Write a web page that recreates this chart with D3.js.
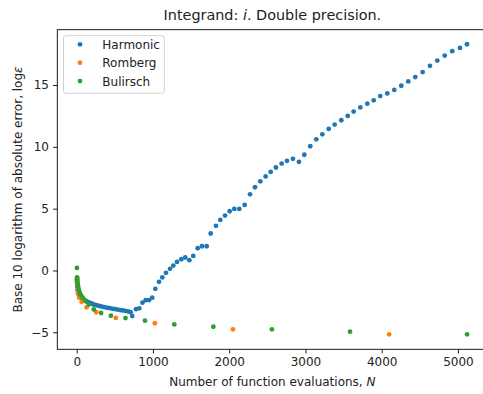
<!DOCTYPE html>
<html>
<head>
<meta charset="utf-8">
<script src="https://cdn.jsdelivr.net/npm/d3@7"></script>
<style>
  html, body { margin: 0; padding: 0; background: #fff; }
  svg { display: block; }
  text { font-family: "DejaVu Sans", sans-serif; fill: #222; }
</style>
</head>
<body>
<div id="chart"></div>
<script>
// ---- Data ----
const seriesNames = ["Harmonic", "Romberg", "Bulirsch"];
const seriesColors = ["#1f77b4", "#ff7f0e", "#2ca02c"];

const harmonicN = [2, 7, 13, 22, 32, 44, 57, 71, 87, 104, 122, 142, 162, 184, 206, 230, 254, 279, 305, 331,
  359, 387, 416, 446, 476, 507, 539, 572, 605, 639, 673, 708, 729,
  778, 821, 863, 905, 948, 991, 1031, 1079, 1123, 1171, 1224, 1267, 1315, 1372, 1424, 1477, 1529, 1587,
  1643, 1705, 1757, 1827, 1883, 1945, 2006, 2067, 2132, 2203, 2273, 2338, 2408, 2478, 2544, 2613,
  2688, 2758, 2836, 2915, 2985, 3063, 3142, 3221, 3305, 3383, 3470, 3554, 3632, 3719, 3811, 3895,
  3981, 4073, 4165, 4257, 4348, 4440, 4537, 4633, 4729, 4826, 4925, 5026, 5118];
const harmonicLogErr = [-0.85, -1.3, -1.6, -1.85, -2.0, -2.1, -2.2, -2.28, -2.35, -2.42, -2.48, -2.54, -2.6, -2.65, -2.71, -2.76, -2.8, -2.84, -2.88, -2.92,
  -2.96, -3.0, -3.03, -3.06, -3.1, -3.13, -3.16, -3.2, -3.23, -3.27, -3.3, -3.38, -3.69,
  -3.13, -3.06, -2.6, -2.4, -2.4, -2.2, -1.48, -0.92, -0.56, -0.19, 0.13, 0.4, 0.69, 0.91, 1.05, 0.83, 1.18, 1.8,
  1.96, 1.96, 2.99, 3.61, 4.09, 4.44, 4.79, 4.98, 4.98, 5.3, 6.16, 6.73, 7.21, 7.61, 7.97, 8.33,
  8.65, 8.87, 9.03, 8.79, 9.36, 10.05, 10.61, 11.01, 11.45, 11.8, 12.15, 12.5, 12.85, 13.19, 13.49, 13.76,
  14.11, 14.32, 14.6, 14.94, 15.29, 15.64, 16.05, 16.55, 16.98, 17.38, 17.74, 18.0, 18.3];

const rombergN = [3, 5, 9, 17, 33, 65, 129, 257, 513, 1025, 2049, 4097];
const rombergLogErr = [-0.7, -1.05, -1.45, -1.85, -2.2, -2.53, -2.98, -3.38, -3.84, -4.27, -4.76, -5.16];

const bulirschN = [3, 5, 7, 10, 14, 20, 28, 40, 56, 80, 112, 160, 224, 320, 448, 640, 896, 1280, 1792, 2560, 3584, 5120];
const bulirschLogErr = [0.21, -0.55, -0.7, -0.9, -1.1, -1.3, -1.55, -1.8, -2.0, -2.2, -2.45, -2.76, -3.15, -3.44, -3.66, -3.85, -4.06, -4.36, -4.55, -4.76, -4.95, -5.16];

const xTicks = [0, 1000, 2000, 3000, 4000, 5000];
const yTicks = [-5, 0, 5, 10, 15];

// ---- Layout ----
const W = 483, H = 394;
const plotLeft = 57.3, plotTop = 29.7, plotBottom = 349.3, plotRight = 487.4;
const fs = 12;

const svg = d3.select("#chart").append("svg")
  .attr("width", W).attr("height", H)
  .attr("viewBox", `0 0 ${W} ${H}`);

const x = d3.scaleLinear().domain([-254.4, 5386]).range([plotLeft, plotRight]);
const y = d3.scaleLinear().domain([-6.375, 19.475]).range([plotBottom, plotTop]);

const series = [
  { name: seriesNames[0], color: seriesColors[0], n: harmonicN, v: harmonicLogErr },
  { name: seriesNames[1], color: seriesColors[1], n: rombergN, v: rombergLogErr },
  { name: seriesNames[2], color: seriesColors[2], n: bulirschN, v: bulirschLogErr }
];

svg.append("defs").append("clipPath").attr("id", "plotclip")
  .append("rect").attr("x", plotLeft).attr("y", plotTop)
  .attr("width", plotRight - plotLeft).attr("height", plotBottom - plotTop);

const gPts = svg.append("g").attr("clip-path", "url(#plotclip)");
series.forEach(s => {
  gPts.append("g").selectAll("circle")
    .data(s.n.map((n, i) => [n, s.v[i]]))
    .join("circle")
    .attr("cx", d => x(d[0]))
    .attr("cy", d => y(d[1]))
    .attr("r", 2.4)
    .attr("fill", s.color);
});

// axes
const xAxis = d3.axisBottom(x).tickValues(xTicks).tickFormat(d3.format("d")).tickSize(4.2).tickPadding(4.2);
const yAxis = d3.axisLeft(y).tickValues(yTicks).tickFormat(d => d < 0 ? "\u2212" + Math.abs(d) : d).tickSize(4.2).tickPadding(4.2);

const gx = svg.append("g").attr("transform", `translate(0,${plotBottom})`).call(xAxis);
const gy = svg.append("g").attr("transform", `translate(${plotLeft},0)`).call(yAxis);
[gx, gy].forEach(g => {
  g.select(".domain").remove();
  g.selectAll(".tick line").attr("stroke", "#000").attr("stroke-width", 0.9);
  g.selectAll(".tick text").attr("font-size", fs).attr("font-family", "DejaVu Sans").attr("fill", "#222");
});

// spines
svg.append("rect")
  .attr("x", plotLeft).attr("y", plotTop)
  .attr("width", plotRight - plotLeft).attr("height", plotBottom - plotTop)
  .attr("fill", "none").attr("stroke", "#000").attr("stroke-width", 0.9);

// title
const title = svg.append("text")
  .attr("x", (plotLeft + plotRight) / 2).attr("y", 20)
  .attr("text-anchor", "middle").attr("font-size", 14.4);
title.append("tspan").text("Integrand: ");
title.append("tspan").attr("font-style", "italic").text("i");
title.append("tspan").text(". Double precision.");

// x label
const xl = svg.append("text")
  .attr("x", (plotLeft + plotRight) / 2).attr("y", 385.5)
  .attr("text-anchor", "middle").attr("font-size", fs);
xl.append("tspan").text("Number of function evaluations, ");
xl.append("tspan").attr("font-style", "italic").text("N");

// y label
const yl = svg.append("text")
  .attr("transform", `translate(21.5,${(plotTop + plotBottom) / 2}) rotate(-90)`)
  .attr("text-anchor", "middle").attr("font-size", fs);
yl.append("tspan").text("Base 10 logarithm of absolute error, log");
yl.append("tspan").attr("font-style", "italic").text("\u03B5");

// legend
const lg = svg.append("g");
lg.append("rect")
  .attr("x", 63.5).attr("y", 35.7).attr("width", 100.8).attr("height", 57.6)
  .attr("rx", 2.5).attr("ry", 2.5)
  .attr("fill", "#fff").attr("fill-opacity", 0.8)
  .attr("stroke", "#ccc").attr("stroke-width", 0.9);
series.forEach((s, i) => {
  const yy = 44.3 + i * 18.4;
  lg.append("circle").attr("cx", 80).attr("cy", yy).attr("r", 2.4).attr("fill", s.color);
  lg.append("text").attr("x", 102.3).attr("y", yy + 4.5).attr("font-size", fs).text(s.name);
});
</script>
</body>
</html>
